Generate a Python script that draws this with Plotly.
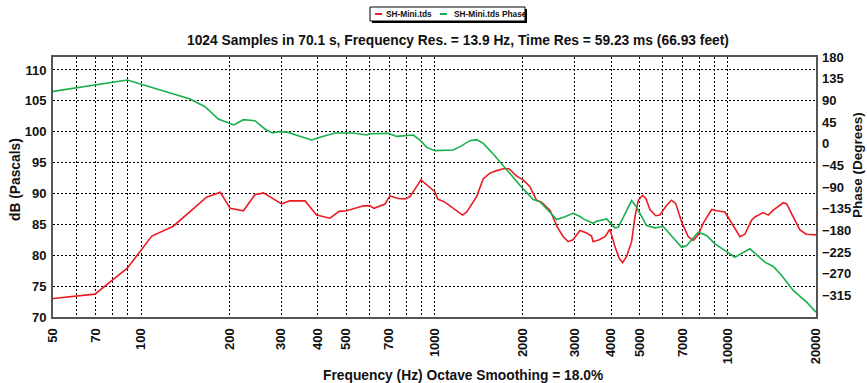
import plotly.graph_objects as go

# Magnitude response (dB SPL re Pascals)
freq_db = [50, 69.5, 89.6, 108.6, 128.6, 167, 186, 201, 223, 244, 261, 301, 320, 362,
           396, 440, 473, 502, 572, 603, 622, 678, 705, 752, 793, 825, 899, 1003,
           1026, 1085, 1144, 1247, 1288, 1392, 1467, 1546, 1630, 1716, 1796, 1906,
           2007, 2116, 2229, 2316, 2476, 2537, 2621, 2748, 2855, 2967, 3134, 3302,
           3432, 3476, 3647, 3813, 3966, 4124, 4264, 4379, 4520, 4701, 4826, 4955,
           5128, 5260, 5428, 5686, 5864, 6189, 6429, 6646, 6962, 7336, 7630, 7933,
           8253, 8814, 9166, 9781, 10423, 11007, 11438, 12066, 12380, 13212, 13755,
           14298, 15465, 15890, 16725, 17630, 18530, 20000]
spl_db = [73.0, 73.7, 77.9, 83.1, 84.7, 89.4, 90.2, 87.6, 87.2, 89.8, 90.1, 88.3, 88.8, 88.8,
          86.5, 86.0, 87.1, 87.2, 88.0, 88.0, 87.6, 88.3, 89.6, 89.2, 89.1, 89.5, 92.2, 90.3,
          89.1, 88.6, 87.8, 86.5, 87.0, 89.5, 92.4, 93.3, 93.7, 94.0, 94.0, 92.8,
          92.2, 91.1, 88.9, 88.6, 87.3, 86.2, 84.6, 83.0, 82.2, 82.5, 84.0, 83.6,
          83.1, 82.2, 82.5, 83.0, 84.2, 81.4, 79.5, 78.8, 79.8, 82.2, 86.2, 88.9,
          89.7, 89.2, 87.4, 86.4, 86.5, 88.1, 88.9, 88.4, 85.4, 83.0, 82.4, 83.3,
          85.2, 87.4, 87.2, 87.0, 84.9, 83.0, 83.4, 85.7, 86.2, 86.9, 86.5,
          87.3, 88.5, 88.3, 86.2, 84.1, 83.4, 83.3]

# Phase response (degrees)
freq_phase = [50, 69.5, 89.6, 146.7, 165, 183, 196, 207, 223, 244, 264, 280, 297, 317,
              343, 381, 407, 440, 458, 528, 587, 602, 695, 743, 793, 847, 896, 941,
              1003, 1159, 1223, 1321, 1392, 1467, 1586, 1694, 1833, 1983, 2171, 2287,
              2476, 2609, 2784, 2967, 3134, 3216, 3476, 3571, 3865, 4124, 4233, 4701,
              4889, 5287, 5648, 6025, 6962, 7247, 7933, 8471, 9047, 9781, 10580, 11904,
              13396, 14298, 15273, 16725, 18584, 20000]
phase_deg = [108.5, 122.4, 132.1, 92.7, 76.7, 51.2, 44.2, 38.8, 49.8, 47.7, 30.5, 22.2, 24.9, 23.4,
             16.6, 7.7, 13.1, 20.0, 22.2, 22.2, 18.0, 20.7, 21.4, 15.1, 16.0, 18.0, 6.2, -7.7,
             -14.5, -13.1, -6.2, 6.2, 8.3, 0.6, -21.4, -42.1, -66.4, -90.6, -116.1, -120.3,
             -142.5, -157.7, -152.0, -144.6, -151.4, -156.2, -165.3, -161.2, -156.2, -174.8, -173.6, -118.2,
             -132.1, -170.1, -174.8, -172.1, -215.1, -211.5, -184.0, -190.8, -208.0, -221.9, -235.8, -218.4,
             -246.2, -255.1, -273.8, -304.9, -329.1, -350.0]

# Axis ticks
freq_grid = [50, 60, 70, 80, 90, 100, 200, 300, 400, 500, 600, 700, 800, 900, 1000,
             2000, 3000, 4000, 5000, 6000, 7000, 8000, 9000, 10000, 20000]
freq_labels = ["50", "", "70", "", "", "100", "200", "300", "400", "500", "", "700", "", "",
               "1000", "2000", "3000", "4000", "5000", "", "7000", "", "", "10000", "20000"]
db_ticks = [70, 75, 80, 85, 90, 95, 100, 105, 110]
phase_ticks = [-315, -270, -225, -180, -135, -90, -45, 0, 45, 90, 135, 180]

title_text = "1024 Samples in 70.1 s, Frequency Res. = 13.9 Hz, Time Res = 59.23 ms (66.93 feet)"
xtitle_text = "Frequency (Hz) Octave Smoothing = 18.0%"
names = ["SH-Mini.tds", "SH-Mini.tds Phase"]

RED = "#ec1c24"
GREEN = "#18b04a"
FONT = "Liberation Sans, Arial, sans-serif"
W, H = 867, 383
L, R, T, B = 53, 51, 57, 66
PW, PH = W - L - R, H - T - B


def px(x):
    return (x - L) / PW


def py(y):
    return (H - B - y) / PH


fig = go.Figure()
fig.add_trace(go.Scatter(x=freq_db, y=spl_db, name=names[0], mode="lines",
                         line=dict(color=RED, width=1.6), showlegend=False))
fig.add_trace(go.Scatter(x=freq_phase, y=phase_deg, name=names[1], mode="lines", yaxis="y2",
                         line=dict(color=GREEN, width=1.6), showlegend=False))

grid = dict(showgrid=True, gridcolor="#000000", gridwidth=1, griddash="2px,2px")
frame = dict(showline=True, linecolor="#555555", linewidth=2, mirror=True, zeroline=False)
tickfont = dict(family=FONT, size=13, color="#111111", weight="bold")

fig.update_layout(
    width=W, height=H,
    margin=dict(l=L, r=R, t=T, b=B, pad=0),
    paper_bgcolor="white", plot_bgcolor="white",
    xaxis=dict(type="log", range=[1.69897, 4.30103], tickmode="array",
               tickvals=freq_grid, ticktext=freq_labels, tickangle=-90,
               ticks="", tickfont=tickfont, ticklabelstandoff=4, **grid, **frame),
    yaxis=dict(range=[70, 112.1], tickmode="array", tickvals=db_ticks,
               ticks="", tickfont=tickfont, ticklabelstandoff=2, **grid, **frame),
    yaxis2=dict(range=[-360, 180], overlaying="y", side="right", tickmode="array",
                tickvals=phase_ticks, ticks="", tickfont=tickfont, showgrid=False,
                zeroline=False, showline=False, ticklabelstandoff=5),
)

ann_font = dict(family=FONT, size=13.8, color="#111111", weight="bold")
fig.add_annotation(text=title_text, x=px(458), y=py(40), xref="paper", yref="paper",
                   showarrow=False, font=ann_font, xanchor="center", yanchor="middle")
fig.add_annotation(text=xtitle_text, x=px(463), y=py(375), xref="paper", yref="paper",
                   showarrow=False, font=ann_font, xanchor="center", yanchor="middle")
fig.add_annotation(text="dB (Pascals)", x=px(15), y=py(180), xref="paper", yref="paper",
                   showarrow=False, font=ann_font, textangle=-90,
                   xanchor="center", yanchor="middle")
fig.add_annotation(text="Phase (Degrees)", x=px(857), y=py(165), xref="paper", yref="paper",
                   showarrow=False, font=dict(ann_font, size=13.5), textangle=-90,
                   xanchor="center", yanchor="middle")

# Legend box with drop shadow
fig.add_shape(type="rect", xref="paper", yref="paper",
              x0=px(372), x1=px(527), y0=py(23), y1=py(9),
              fillcolor="#000000", line=dict(width=0), layer="above")
fig.add_shape(type="rect", xref="paper", yref="paper",
              x0=px(370), x1=px(525), y0=py(21), y1=py(7),
              fillcolor="white", line=dict(color="#000000", width=1), layer="above")
leg_font = dict(family=FONT, size=8.3, color="#111111", weight="bold")
for (x0, x1, xt), color, name in zip([(375, 382, 384), (440, 447, 452)], [RED, GREEN], names):
    fig.add_shape(type="line", xref="paper", yref="paper", x0=px(x0), x1=px(x1),
                  y0=py(14), y1=py(14), line=dict(color=color, width=2), layer="above")
    fig.add_annotation(text=name, x=px(xt), y=py(14), xref="paper", yref="paper",
                       showarrow=False, font=leg_font, xanchor="left", yanchor="middle")

fig.write_html("out.html")
